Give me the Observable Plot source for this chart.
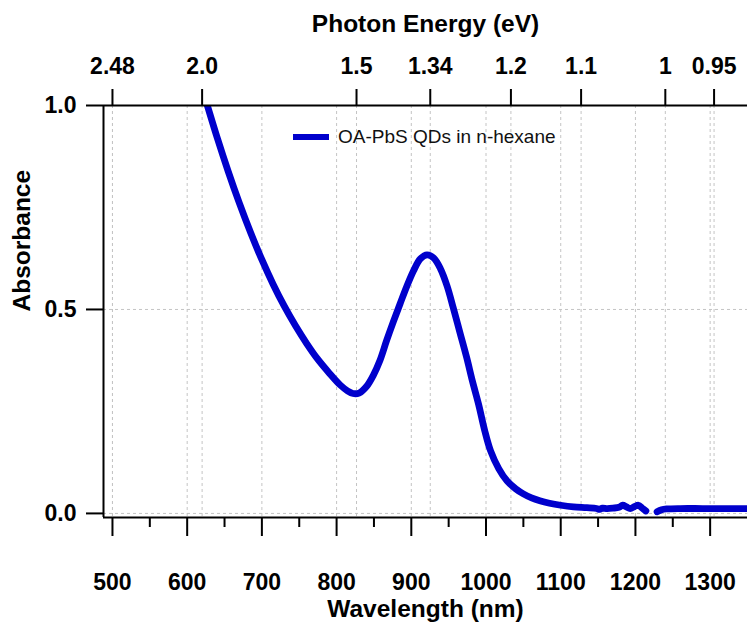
<!DOCTYPE html>
<html><head><meta charset="utf-8">
<script src="https://cdn.jsdelivr.net/npm/d3@7"></script>
<script src="https://cdn.jsdelivr.net/npm/@observablehq/plot@0.6"></script>
<style>
body{margin:0;background:#fff;}
#wrap{position:relative;width:747px;height:623px;overflow:hidden;}
#legend{position:absolute;left:293px;top:126px;font:19px "Liberation Sans",Arial,sans-serif;color:#111;display:flex;align-items:center;white-space:nowrap;}
#legend .sw{display:inline-block;width:36px;height:6px;background:#0000CC;margin-right:9px;}
</style></head><body><div id="wrap"></div>
<script>
// Spectrum (wavelength in nm, absorbance); null marks the gap in the data
const wavelength = [622,627,640,655,670,685,700,715,730,745,760,775,790,805,815,822,830,840,849,858,867,876,885,894,903,912,921,930,939,948,956,965,974,982,990,998,1006,1017,1028,1040,1050,1061,1072,1085,1100,1117,1135,1148,1152,1156,1162,1170,1178,1183,1188,1193,1199,1204,1209,1214,1220,1229,1235,1242,1260,1290,1320,1352];
const absorbance = [1.03,1.0,0.922,0.838,0.760,0.688,0.622,0.562,0.508,0.460,0.4165,0.3775,0.3445,0.3145,0.300,0.294,0.295,0.311,0.338,0.375,0.424,0.470,0.514,0.557,0.595,0.624,0.634,0.626,0.600,0.557,0.505,0.444,0.383,0.323,0.268,0.205,0.154,0.110,0.080,0.060,0.048,0.038,0.031,0.025,0.020,0.016,0.014,0.012,0.010,0.013,0.012,0.013,0.015,0.020,0.016,0.012,0.017,0.020,0.013,0.006,null,0.004,0.009,0.011,0.012,0.012,0.012,0.012];

const wlTicks = [500,600,700,800,900,1000,1100,1200,1300];
const wlMinorTicks = [550,650,750,850,950,1050,1150,1250];
const energyTicks = [2.48,2.0,1.5,1.34,1.2,1.1,1.0,0.95];
const energyLabels = ["2.48","2.0","1.5","1.34","1.2","1.1","1","0.95"];
const yTicks = [0,0.5,1.0];
const yLabels = ["0.0","0.5","1.0"];
const seriesName = "OA-PbS QDs in n-hexane";
const xTitle = "Wavelength (nm)";
const topTitle = "Photon Energy (eV)";
const yTitle = "Absorbance";

const data = wavelength.map((w, i) => ({w, a: absorbance[i]}));
const topPos = energyTicks.map(e => 1240 / e);
const topLabel = new Map(topPos.map((p, i) => [p, energyLabels[i]]));
const yLabel = new Map(yTicks.map((v, i) => [v, yLabels[i]]));

const blue = "#0000CC";
const font = "'Liberation Sans', Arial, sans-serif";
const gridStyle = {stroke: "#c4c4c4", strokeOpacity: 1, strokeWidth: 1, strokeDasharray: "3,3"};

const chart = Plot.plot({
  width: 747, height: 623,
  marginLeft: 103, marginRight: 0, marginTop: 105, marginBottom: 106,
  style: {fontFamily: font, fontWeight: "bold", background: "white", color: "black", overflow: "visible"},
  x: {domain: [488, 1350], label: null},
  y: {domain: [-0.01, 1.0], label: null},
  marks: [
    Plot.gridX(wlTicks.concat(topPos), gridStyle),
    Plot.gridY(yTicks, gridStyle),
    Plot.line(data, {x: "w", y: "a", stroke: blue, strokeWidth: 6.8, curve: "catmull-rom", clip: true}),
    Plot.ruleY([-0.01], {stroke: "black", strokeWidth: 2}),
    Plot.ruleY([1.0], {stroke: "black", strokeWidth: 2}),
    Plot.ruleX([488], {stroke: "black", strokeWidth: 2}),
    Plot.axisX(wlTicks, {anchor: "bottom", tickSize: 19, tickPadding: 37, tickFormat: d => String(d), fontSize: 23, strokeWidth: 2, label: null}),
    Plot.axisX(wlMinorTicks, {anchor: "bottom", tickSize: 10, tickFormat: () => "", strokeWidth: 2, label: null}),
    Plot.axisX(topPos, {anchor: "top", tickSize: 17, tickPadding: 15, tickFormat: d => topLabel.get(d), fontSize: 23, strokeWidth: 2, label: null}),
    Plot.axisY(yTicks, {anchor: "left", tickSize: 17, tickPadding: 10, tickFormat: d => yLabel.get(d), fontSize: 23, strokeWidth: 2, label: null}),
    Plot.text([xTitle], {frameAnchor: "bottom", lineAnchor: "middle", dy: 92, fontSize: 24.5, fill: "black"}),
    Plot.text([topTitle], {frameAnchor: "top", lineAnchor: "middle", dy: -81, fontSize: 24.5, fill: "black"}),
    Plot.text([yTitle], {frameAnchor: "left", dx: -81, rotate: -90, fontSize: 24.5, fill: "black"})
  ]
});
const wrap = document.getElementById("wrap");
wrap.appendChild(chart);
const lg = document.createElement("div");
lg.id = "legend";
lg.innerHTML = '<span class="sw"></span><span></span>';
lg.lastChild.textContent = seriesName;
wrap.appendChild(lg);
</script>
</body></html>
